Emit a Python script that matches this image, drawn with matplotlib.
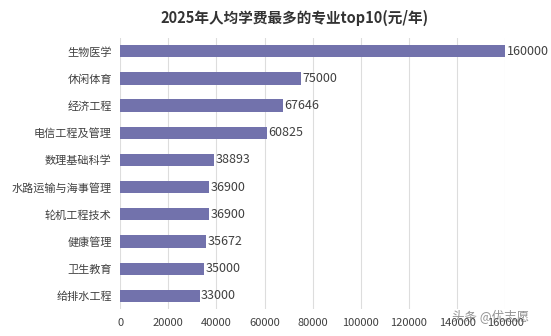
import matplotlib.pyplot as plt

plt.rcParams['font.family'] = ['Noto Sans CJK SC', 'DejaVu Sans']

majors = ['生物医学', '休闲体育', '经济工程', '电信工程及管理', '数理基础科学',
          '水路运输与海事管理', '轮机工程技术', '健康管理', '卫生教育', '给排水工程']
fees = [160000, 75000, 67646, 60825, 38893, 36900, 36900, 35672, 35000, 33000]
xticks = [0, 20000, 40000, 60000, 80000, 100000, 120000, 140000, 160000]

fig = plt.figure(figsize=(5.51, 3.36), dpi=100)
ax = fig.add_axes([0.218, 0.079, 0.699, 0.809])

pos = list(range(len(majors)))[::-1]
ax.barh(pos, fees, height=0.45, color='#7272AC', zorder=2)

for p, v in zip(pos, fees):
    ax.text(v + 600, p, str(v), va='center', ha='left', fontsize=9, color='#404040')

ax.set_yticks(pos)
ax.set_yticklabels(majors, fontsize=8, color='#404040')
ax.set_xticks(xticks)
ax.set_xticklabels([str(t) for t in xticks], fontsize=8, color='#404040')
ax.set_xlim(0, 160000)
ax.set_ylim(-0.5, len(majors) - 0.5)
ax.tick_params(length=0, pad=6)
ax.xaxis.grid(True, color='#DDDDDD', linewidth=0.8, zorder=0)
for s in ax.spines.values():
    s.set_visible(False)

fig.text(0.535, 0.948, '2025年人均学费最多的专业top10(元/年)', ha='center', va='center',
         fontsize=10.5, fontweight='bold', color='#333333')
fig.text(0.82, 0.045, '头条 @优志愿', fontsize=9, color='#666666', alpha=0.7)

fig.savefig('out.png', dpi=100)
